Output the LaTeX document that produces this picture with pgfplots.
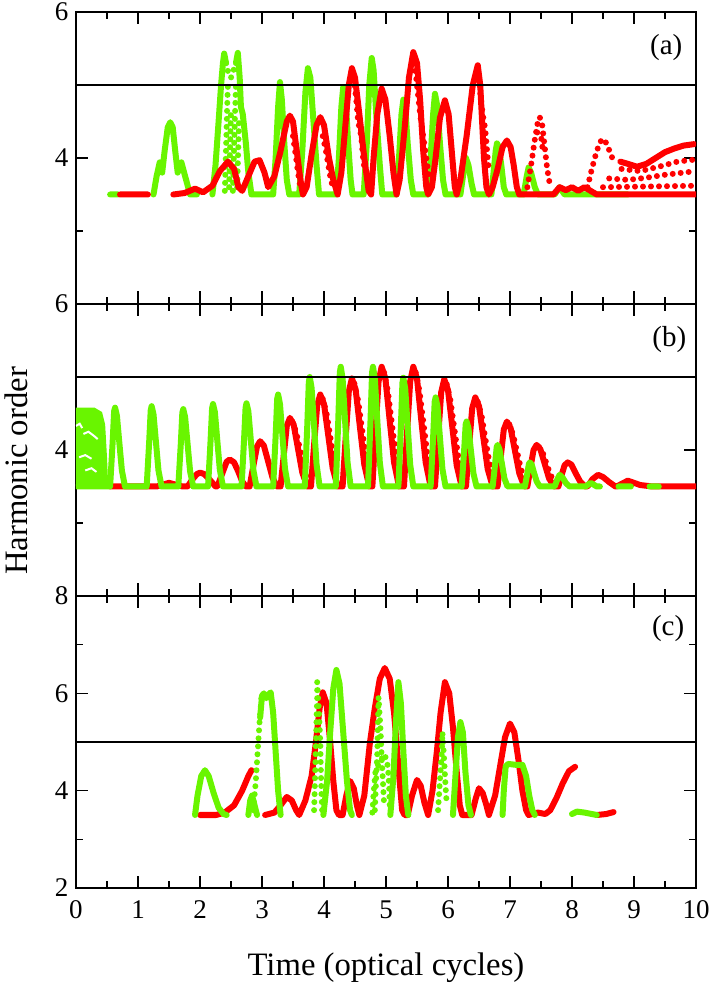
\documentclass[border=0pt]{standalone}
\usepackage{fontspec}
\setmainfont{Liberation Serif}
\usepackage{pgfplots}
\pgfplotsset{compat=1.18}
\definecolor{rd}{RGB}{255,0,0}
\definecolor{gr}{RGB}{105,245,0}
\tikzset{plab/.style={font=\fontsize{29}{29}\selectfont}}
\pgfplotsset{
  myax/.style={width=620pt,height=292pt,scale only axis,
    xmin=0,xmax=10,ymin=2,
    xtick={0,1,...,10}, minor xtick={0.5,1.5,...,9.5},
    tick align=inside, major tick length=12.5pt, minor tick length=7pt,
    tick style={line width=1.6pt,black},
    axis line style={line width=1.8pt},
    tick pos=both, xticklabel pos=left, yticklabel pos=left,
    tick label style={font=\fontsize{27}{27}\selectfont},
    xticklabel style={yshift=-9pt},
    yticklabel style={xshift=-4pt},
    /pgf/number format/assume math mode=true,
    unbounded coords=jump},
  sol/.style={line width=6pt,line cap=round,line join=round},
  dts/.style={line width=6pt,line cap=round,dash pattern=on 0pt off 8pt},
  hl/.style={black,line width=1.6pt}
}
\begin{document}
\begin{tikzpicture}
% ---------------- panel (a) ----------------
\begin{axis}[myax, at={(0,584pt)}, ymax=6, ytick={2,4,6}, yticklabels={,4,6}, minor ytick={3,5}, xticklabels={}]
\addplot[gr,sol] coordinates {(0.55,3.5)(0.68,3.5)(1,nan)
(1.25,3.5)(1.3,3.75)(1.35,3.94)(1.39,3.8)(1.43,4.1)(1.48,4.42)(1.52,4.49)(1.56,4.42)(1.6,4.1)(1.64,3.8)(1.7,3.94)(1.76,3.75)(1.84,3.5)(1.95,3.5)(2,nan)
(2.2,3.5)(2.25,3.9)(2.3,4.5)(2.34,5.0)(2.37,5.3)(2.39,5.43)(2.42,5.3)(2.5,nan)
(2.58,5.3)(2.61,5.44)(2.64,5.1)(2.66,4.7)(2.69,4.6)(2.74,4.2)(2.78,3.8)(2.83,3.5)(3.18,3.5)(3.22,4.0)(3.26,4.7)(3.29,5.04)(3.32,4.8)(3.36,4.2)(3.4,3.7)(3.44,3.5)(3.6,3.5)(3.65,4.1)(3.7,4.9)(3.74,5.23)(3.78,5.1)(3.83,4.5)(3.88,3.9)(3.92,3.5)(4.2,3.5)(4.24,4.0)(4.28,4.7)(4.31,4.97)(4.35,4.8)(4.39,4.2)(4.43,3.7)(4.46,3.5)(4.64,3.5)(4.69,4.2)(4.73,5.0)(4.77,5.37)(4.8,5.2)(4.85,4.5)(4.9,3.9)(4.94,3.5)(5.17,3.5)(5.21,4.0)(5.25,4.6)(5.28,4.8)(5.31,4.7)(5.35,4.2)(5.4,3.7)(5.44,3.5)(5.68,3.5)(5.72,4.0)(5.76,4.6)(5.79,4.88)(5.83,4.7)(5.87,4.2)(5.92,3.7)(5.96,3.5)(6.2,3.5)(6.25,3.8)(6.29,4.0)(6.33,3.9)(6.38,3.65)(6.42,3.5)(6.7,3.5)(6.74,3.85)(6.77,4.1)(6.79,4.2)(6.82,4.15)(6.86,3.9)(6.9,3.6)(6.94,3.5)(7.22,3.5)(7.27,3.75)(7.3,3.87)(7.34,3.8)(7.4,3.6)(7.45,3.5)(7.72,3.5)(7.8,3.6)(7.88,3.5)(8.9,3.5)};
\addplot[gr,dts] coordinates {(2.42,5.3)(2.46,5.15)(2.5,5.1)(2.54,5.2)(2.58,5.3)(2.6,nan)
(2.4,3.55)(2.41,3.85)(2.42,4.15)(2.43,4.45)(2.44,4.75)(2.45,5.0)(2.5,nan)
(2.47,3.6)(2.48,3.95)(2.49,4.3)(2.5,4.65)(2.5,nan)
(2.53,3.55)(2.54,3.85)(2.55,4.15)(2.56,4.45)(2.57,4.75)(2.58,5.0)(2.6,nan)
(2.6,3.6)(2.61,3.9)(2.62,4.2)(2.63,4.5)};
\addplot[rd,sol] coordinates {(0.71,3.5)(1.16,3.5)(1.3,nan)
(1.57,3.5)(1.75,3.52)(1.92,3.58)(2.05,3.53)(2.2,3.62)(2.32,3.82)(2.45,3.95)(2.55,3.85)(2.62,3.6)(2.68,3.55)(2.78,3.75)(2.88,3.95)(2.96,3.97)(3.04,3.8)(3.1,3.6)(3.2,3.75)(3.3,4.1)(3.4,4.5)(3.45,4.58)(3.5,4.5)(3.56,4.1)(3.62,3.7)(3.66,3.5)(3.72,3.6)(3.8,4.05)(3.88,4.45)(3.94,4.56)(4.0,4.45)(4.08,4.0)(4.15,3.7)(4.22,3.5)(4.28,3.8)(4.34,4.4)(4.4,5.0)(4.45,5.23)(4.5,5.1)(4.57,4.6)(4.65,4.0)(4.72,3.55)(4.76,3.5)(4.8,4.0)(4.86,4.6)(4.93,4.95)(4.99,4.8)(5.06,4.3)(5.12,3.8)(5.17,3.5)(5.22,3.7)(5.3,4.4)(5.37,5.1)(5.44,5.45)(5.5,5.3)(5.55,4.8)(5.6,4.1)(5.65,3.6)(5.68,3.5)(5.74,3.6)(5.8,4.0)(5.87,4.55)(5.95,4.79)(6.01,4.6)(6.06,4.1)(6.11,3.6)(6.14,3.5)(6.2,3.7)(6.3,4.3)(6.4,5.0)(6.48,5.27)(6.52,5.0)(6.55,4.5)(6.58,4.0)(6.62,3.6)(6.66,3.5)(6.72,3.6)(6.8,3.85)(6.88,4.15)(6.95,4.24)(7.01,4.15)(7.06,3.9)(7.11,3.6)(7.15,3.5)(7.7,3.5)(7.8,3.6)(7.9,3.56)(8.0,3.6)(8.1,3.55)(8.2,3.6)(8.3,3.55)(8.4,3.5)(10,3.5)(10,nan)
(8.78,3.95)(8.9,3.92)(9.05,3.88)(9.2,3.92)(9.35,4.0)(9.5,4.08)(9.65,4.13)(9.8,4.17)(9.97,4.19)};
\addplot[rd,dts] coordinates {(4.48,5.1)(4.52,4.8)(4.55,4.5)(4.6,4.3)(4.63,4.0)(4.66,3.8)(4.7,nan)
(5.46,5.3)(5.5,5.0)(5.55,4.6)(5.6,4.3)(5.65,4.0)(5.7,3.7)(5.7,nan)
(6.5,5.1)(6.53,4.8)(6.56,4.6)(6.6,4.4)(6.63,4.1)(6.66,3.8)(6.7,nan)
(3.5,4.3)(3.55,4.0)(3.58,3.8)(3.62,3.6)(3.7,nan)
(3.98,4.3)(4.03,4.1)(4.07,3.9)(4.1,3.75)(4.14,3.6)(4.2,nan)
(7.28,3.6)(7.34,3.9)(7.4,4.25)(7.45,4.5)(7.48,4.56)(7.52,4.45)(7.56,4.15)(7.6,3.85)(7.65,3.6)(7.7,nan)
(7.44,4.35)(7.5,4.3)(7.53,4.1)(7.5,nan)
(8.25,3.6)(8.32,3.85)(8.4,4.1)(8.47,4.24)(8.52,4.26)(8.58,4.15)(8.65,4.0)(8.72,3.95)(8.8,nan)
(8.6,3.72)(8.9,3.7)(9.2,3.73)(9.5,3.77)(9.8,3.8)(10,3.82)(10,nan)
(8.8,3.85)(9.1,3.82)(9.4,3.88)(9.7,3.95)(10,3.98)(10,nan)
(8.5,3.6)(10,3.62)};
\addplot[hl] coordinates {(0,5)(10,5)};
\node[plab] at (rel axis cs:0.952,0.88) {(a)};
\end{axis}
% ---------------- panel (b) ----------------
\begin{axis}[myax, at={(0,292pt)}, ymax=6, ytick={2,4,6}, yticklabels={,4,6}, minor ytick={3,5}, xticklabels={},
  ylabel={Harmonic order}, ylabel style={at={(rel axis cs:-0.0968,0.428)},anchor=center,font=\fontsize{32.7}{33}\selectfont}]
\addplot[rd,sol] coordinates {(0.55,3.5)(1.3,3.5)(1.5,3.55)(1.72,3.5)(1.8,3.5)(1.88,3.6)(1.95,3.67)(2.0,3.69)(2.07,3.67)(2.15,3.6)(2.25,3.5)
(2.28,3.5)(2.36,3.68)(2.43,3.84)(2.48,3.87)(2.55,3.83)(2.62,3.7)(2.68,3.57)(2.74,3.5)
(2.8,3.5)(2.86,3.78)(2.92,4.05)(2.97,4.12)(3.03,4.06)(3.1,3.84)(3.17,3.62)(3.24,3.5)
(3.3,3.5)(3.35,3.92)(3.4,4.33)(3.45,4.44)(3.51,4.35)(3.58,4.02)(3.65,3.69)(3.73,3.5)
(3.79,3.5)(3.84,4.07)(3.89,4.61)(3.94,4.76)(4.0,4.63)(4.07,4.19)(4.14,3.75)(4.22,3.5)
(4.3,3.5)(4.35,4.17)(4.4,4.8)(4.45,4.98)(4.51,4.83)(4.58,4.31)(4.65,3.8)(4.73,3.5)
(4.78,3.5)(4.83,4.24)(4.88,4.94)(4.93,5.14)(4.99,4.98)(5.06,4.4)(5.13,3.83)(5.21,3.5)
(5.29,3.5)(5.34,4.24)(5.39,4.94)(5.44,5.14)(5.5,4.98)(5.57,4.4)(5.64,3.83)(5.72,3.5)
(5.79,3.5)(5.84,4.16)(5.89,4.79)(5.94,4.97)(6.0,4.82)(6.07,4.31)(6.14,3.79)(6.22,3.5)
(6.29,3.5)(6.34,4.05)(6.39,4.57)(6.44,4.72)(6.5,4.6)(6.57,4.17)(6.64,3.74)(6.72,3.5)
(6.8,3.5)(6.85,3.9)(6.9,4.28)(6.95,4.39)(7.01,4.3)(7.08,3.99)(7.15,3.68)(7.23,3.5)
(7.28,3.5)(7.33,3.76)(7.38,4.0)(7.43,4.07)(7.49,4.01)(7.56,3.81)(7.63,3.61)(7.71,3.5)
(7.78,3.5)(7.83,3.65)(7.88,3.79)(7.93,3.83)(7.99,3.8)(8.06,3.68)(8.13,3.57)(8.21,3.5)
(8.25,3.5)(8.33,3.6)(8.42,3.66)(8.5,3.63)(8.6,3.56)(8.7,3.5)
(8.72,3.5)(8.9,3.58)(9.1,3.52)(9.3,3.5)(10,3.5)};
\addplot[rd,dts] coordinates {(3.49,4.39)(3.55,4.25)(3.61,4.02)(3.67,3.78)(3.73,3.59)(3.7,nan)
(3.98,4.70)(4.04,4.51)(4.10,4.19)(4.16,3.88)(4.22,3.63)(4.2,nan)
(4.49,4.91)(4.55,4.68)(4.61,4.31)(4.67,3.94)(4.73,3.65)(4.7,nan)
(4.97,5.06)(5.03,4.81)(5.09,4.40)(5.15,3.99)(5.21,3.66)(5.2,nan)
(5.48,5.06)(5.54,4.81)(5.60,4.40)(5.66,3.99)(5.72,3.66)(5.7,nan)
(5.98,4.90)(6.04,4.68)(6.10,4.31)(6.16,3.94)(6.22,3.65)(6.2,nan)
(6.48,4.66)(6.54,4.48)(6.60,4.17)(6.66,3.87)(6.72,3.62)(6.7,nan)
(6.99,4.35)(7.05,4.21)(7.11,3.99)(7.17,3.77)(7.23,3.59)(7.2,nan)
(7.47,4.04)(7.53,3.96)(7.59,3.81)(7.65,3.67)(7.71,3.56)};
\addplot[fill=gr,draw=none] coordinates {(0,3.5)(0,4.58)(0.3,4.58)(0.42,4.52)(0.47,4.35)(0.5,3.9)(0.52,3.5)};
\addplot[white,line width=2pt] coordinates {(0,4.33)(0.06,4.36)(0.1,4.3)(0.1,nan)(0.12,4.22)(0.2,4.25)(0.28,4.2)(0.35,4.15)(0.35,nan)(0.05,3.9)(0.15,3.93)(0.25,3.88)(0.25,nan)(0.15,3.72)(0.25,3.75)(0.33,3.7)};
\addplot[gr,sol] coordinates {(0.02,3.5)(0.55,3.5)(0.59,4.09)(0.615,4.53)(0.63,4.58)(0.66,4.47)(0.70,4.09)(0.74,3.72)(0.79,3.5)
(1.14,3.5)(1.18,4.105)(1.205,4.545)(1.22,4.6)(1.25,4.49)(1.29,4.105)(1.33,3.72)(1.38,3.5)
(1.65,3.5)(1.69,4.08)(1.715,4.51)(1.73,4.56)(1.76,4.45)(1.80,4.08)(1.84,3.71)(1.89,3.5)
(2.13,3.5)(2.17,4.12)(2.195,4.57)(2.21,4.63)(2.24,4.52)(2.28,4.12)(2.32,3.73)(2.37,3.5)
(2.67,3.5)(2.71,4.13)(2.735,4.58)(2.75,4.64)(2.78,4.53)(2.82,4.13)(2.86,3.73)(2.91,3.5)
(3.18,3.5)(3.22,4.19)(3.245,4.70)(3.26,4.76)(3.29,4.63)(3.33,4.19)(3.37,3.75)(3.42,3.5)
(3.69,3.5)(3.73,4.33)(3.755,4.93)(3.77,5.0)(3.80,4.85)(3.84,4.33)(3.88,3.8)(3.93,3.5)
(4.19,3.5)(4.23,4.4)(4.255,5.06)(4.27,5.14)(4.30,4.98)(4.34,4.4)(4.38,3.83)(4.43,3.5)
(4.71,3.5)(4.75,4.4)(4.775,5.06)(4.79,5.14)(4.82,4.98)(4.86,4.4)(4.90,3.83)(4.95,3.5)
(5.20,3.5)(5.24,4.32)(5.265,4.92)(5.28,4.99)(5.31,4.84)(5.35,4.32)(5.39,3.8)(5.44,3.5)
(5.72,3.5)(5.76,4.17)(5.785,4.66)(5.8,4.72)(5.83,4.6)(5.87,4.17)(5.91,3.74)(5.96,3.5)
(6.22,3.5)(6.26,3.99)(6.285,4.35)(6.3,4.39)(6.33,4.3)(6.37,3.99)(6.41,3.68)(6.46,3.5)
(6.72,3.5)(6.76,3.81)(6.785,4.04)(6.8,4.07)(6.83,4.01)(6.87,3.81)(6.91,3.61)(6.96,3.5)
(7.24,3.5)(7.28,3.68)(7.305,3.81)(7.32,3.83)(7.35,3.8)(7.39,3.68)(7.43,3.57)(7.48,3.5)
(7.72,3.5)(7.76,3.59)(7.8,3.66)(7.85,3.62)(7.9,3.55)(7.96,3.5)
(8.22,3.5)(8.3,3.55)(8.4,3.5)(8.45,3.5)(8.5,nan)
(8.75,3.5)(8.95,3.5)(9,nan)(9.25,3.5)(9.4,3.5)};
\addplot[hl] coordinates {(0,5)(10,5)};
\node[plab] at (rel axis cs:0.957,0.88) {(b)};
\end{axis}
% ---------------- panel (c) ----------------
\begin{axis}[myax, at={(0,0)}, ymax=8, ytick={2,4,6,8}, minor ytick={3,5,7},
  xlabel={Time (optical cycles)}, xlabel style={at={(rel axis cs:0.5,-0.298)},anchor=base,font=\fontsize{32.7}{33}\selectfont}]
\addplot[rd,sol] coordinates {(2.0,3.5)(2.26,3.5)(2.4,3.55)(2.55,3.7)(2.68,4.0)(2.78,4.3)(2.83,4.42)(2.9,nan)
(3.05,3.5)(3.2,3.55)(3.3,3.7)(3.4,3.87)(3.48,3.8)(3.55,3.6)(3.6,3.5)(3.7,3.8)(3.8,4.3)(3.87,5.0)(3.93,5.7)(3.98,6.02)(4.04,5.8)(4.1,5.0)(4.15,4.2)(4.2,3.6)(4.24,3.5)(4.3,3.5)(4.36,3.9)(4.42,4.2)(4.48,4.05)(4.53,3.7)(4.57,3.5)(4.65,3.9)(4.74,4.98)(4.82,5.7)(4.9,6.3)(4.98,6.52)(5.06,6.3)(5.13,5.6)(5.2,4.5)(5.26,3.6)(5.3,3.5)(5.35,3.5)(5.42,3.9)(5.5,4.22)(5.56,4.1)(5.62,3.75)(5.68,3.5)(5.75,4.0)(5.82,4.8)(5.88,5.6)(5.95,6.23)(6.02,6.0)(6.08,5.3)(6.14,4.4)(6.19,3.7)(6.23,3.5)(6.38,3.5)(6.45,3.85)(6.5,4.05)(6.56,3.95)(6.62,3.7)(6.66,3.5)(6.76,3.9)(6.84,4.5)(6.92,5.1)(7.0,5.38)(7.07,5.2)(7.14,4.6)(7.2,4.0)(7.26,3.6)(7.3,3.5)(7.45,3.55)(7.57,3.52)(7.65,3.6)(7.75,3.85)(7.85,4.15)(7.95,4.4)(8.05,4.49)(8.1,nan)
(8.4,3.5)(8.55,3.52)(8.67,3.56)};
\addplot[gr,sol] coordinates {(1.92,3.5)(1.96,3.9)(2.02,4.3)(2.08,4.42)(2.14,4.3)(2.22,3.95)(2.3,3.65)(2.38,3.52)(2.43,3.5)(2.5,nan)
(2.78,3.5)(2.81,3.8)(2.84,3.9)(2.88,3.7)(2.92,3.5)(2.95,nan)
(2.97,5.5)(3.0,5.95)(3.03,6.0)(3.07,5.9)(3.1,5.97)(3.14,6.02)(3.18,5.6)(3.22,4.8)(3.26,4.0)(3.3,3.5)(3.4,nan)
(3.99,3.5)(4.05,4.2)(4.1,5.2)(4.15,6.1)(4.2,6.48)(4.25,6.2)(4.31,5.2)(4.37,4.2)(4.42,3.6)(4.45,3.5)(4.5,nan)
(5.07,3.5)(5.12,4.3)(5.16,5.4)(5.2,6.23)(5.24,5.8)(5.28,4.8)(5.32,3.9)(5.36,3.5)(5.4,nan)
(6.08,3.5)(6.12,4.3)(6.16,5.1)(6.2,5.41)(6.24,5.2)(6.28,4.4)(6.33,3.7)(6.37,3.5)(6.4,nan)
(6.88,3.5)(6.9,4.0)(6.93,4.5)(6.97,4.55)(7.1,4.53)(7.2,4.53)(7.26,4.3)(7.31,3.9)(7.36,3.6)(7.4,3.5)(7.5,nan)
(8.0,3.52)(8.08,3.57)(8.2,3.55)(8.4,3.5)};
\addplot[gr,dts] coordinates {(2.86,3.6)(2.9,4.2)(2.93,4.8)(2.96,5.4)(2.99,5.9)(3,nan)
(3.84,3.6)(3.85,4.0)(3.86,4.5)(3.87,5.0)(3.88,5.5)(3.89,5.9)(3.89,6.23)(3.92,5.6)(3.94,5.0)(3.95,4.4)(3.96,3.9)(3.97,3.6)(4,nan)
(4.82,3.6)(4.84,4.2)(4.86,4.8)(4.87,5.4)(4.88,5.92)(4.91,5.3)(4.93,4.7)(4.95,4.2)(4.97,3.7)(5,nan)
(4.78,3.55)(4.8,3.95)(4.83,4.4)(4.9,4.6)(4.98,4.75)(5.03,4.5)(5.05,4.1)(5.06,3.7)(5.1,nan)
(5.84,3.6)(5.86,4.0)(5.88,4.4)(5.9,4.8)(5.91,5.2)(5.94,4.6)(5.96,4.1)(5.98,3.7)};
\addplot[hl] coordinates {(0,5)(10,5)};
\node[plab] at (rel axis cs:0.955,0.89) {(c)};
\end{axis}
\pgfresetboundingbox
\path (-76pt,888pt) rectangle (633pt,-95pt);
\end{tikzpicture}
\end{document}
